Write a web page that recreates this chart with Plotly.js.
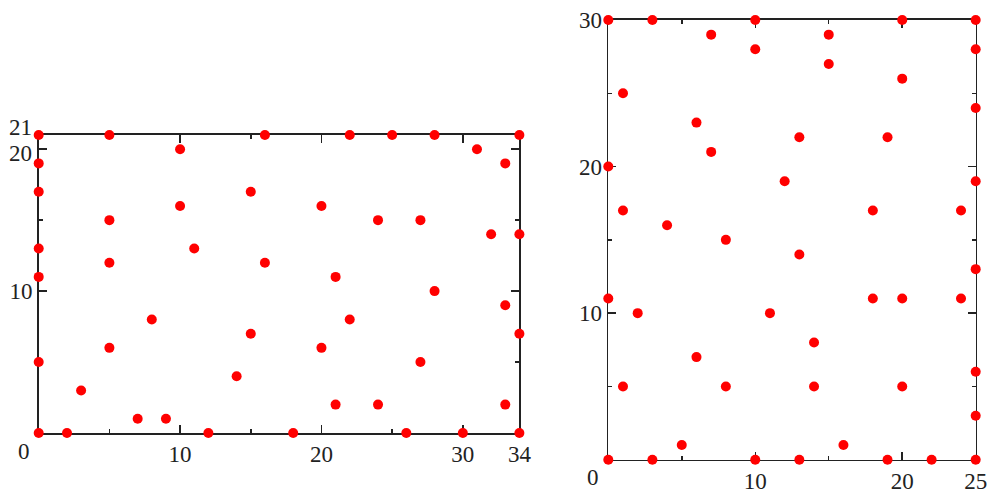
<!DOCTYPE html>
<html>
<head>
<meta charset="utf-8">
<script src="https://cdn.plot.ly/plotly-3.0.1.min.js"></script>
<style>html,body{margin:0;padding:0;background:#fff;}#chart{width:997px;height:497px;}</style>
</head>
<body>
<div id="chart"></div>
<script>
// Left panel points (x, y)
const leftX = [0,5,16,22,25,28,34, 10,31, 0,33, 0,15, 10,20, 5,24,27, 32,34, 0,11, 5,16, 0,21, 28, 33, 8,22, 15,34, 5,20, 0,27, 14, 3, 21,24,33, 7,9, 0,2,12,18,26,30,34];
const leftY = [21,21,21,21,21,21,21, 20,20, 19,19, 17,17, 16,16, 15,15,15, 14,14, 13,13, 12,12, 11,11, 10, 9, 8,8, 7,7, 6,6, 5,5, 4, 3, 2,2,2, 1,1, 0,0,0,0,0,0,0];
// Right panel points (x, y)
const rightX = [0,3,10,20,25, 7,15, 10,25, 15, 20, 1, 25, 6, 13,19, 7, 0, 12,25, 1,18,24, 4, 8, 13, 25, 0,18,20,24, 2,11, 14, 6, 25, 1,8,14,20, 25, 5,16, 0,3,10,13,19,22,25];
const rightY = [30,30,30,30,30, 29,29, 28,28, 27, 26, 25, 24, 23, 22,22, 21, 20, 19,19, 17,17,17, 16, 15, 14, 13, 11,11,11,11, 10,10, 8, 7, 6, 5,5,5,5, 3, 1,1, 0,0,0,0,0,0,0];
// Tick labels
const leftXTicks = [10,20,30,34];
const leftYTicks = [10,20];
const leftYTickText = ['10',''];
const rightXTicks = [10,20,25];
const rightYTicks = [10,20,30];
const originLabel = '0';
const leftYUpperLabels = ['20','21'];
const leftYUpperValues = [20,21];

const marker = {color:'#ff0000', size:10};
const traces = [
  {x:leftX, y:leftY, type:'scatter', mode:'markers', marker, xaxis:'x', yaxis:'y', cliponaxis:false, hoverinfo:'none'},
  {x:rightX, y:rightY, type:'scatter', mode:'markers', marker, xaxis:'x2', yaxis:'y2', cliponaxis:false, hoverinfo:'none'}
];

const font = {family:'Liberation Serif, Times New Roman, serif', size:23, color:'#222'};
function ax(range, domain, anchor, tickvals, minorvals, ticktext){
  return {
    range, domain, anchor, autorange:false, fixedrange:true, layer:'below traces',
    tickmode:'array', tickvals, ticktext: ticktext || tickvals.map(String),
    ticks:'inside', ticklen:8, tickwidth:1.5, tickcolor:'#222',
    showline:true, linecolor:'#222', linewidth:1.6, mirror:'ticks',
    showgrid:false, zeroline:false, tickfont:font,
    minor:{tickmode:'array', tickvals:minorvals, ticks:'inside', ticklen:4, tickwidth:1.5, tickcolor:'#222', showgrid:false}
  };
}

const annotations = [
  {text:originLabel, xref:'x', yref:'y', x:0, y:0, showarrow:false, font, xshift:-15, yshift:-18},
  {text:originLabel, xref:'x2', yref:'y2', x:0, y:0, showarrow:false, font, xshift:-15, yshift:-18}
];
const upperShift = [-4, 8];
leftYUpperLabels.forEach((t,i)=>annotations.push(
  {text:t, xref:'x', yref:'y', x:0, y:leftYUpperValues[i], showarrow:false, font, xanchor:'right', xshift:-5, yshift:upperShift[i]}
));

const layout = {
  width:997, height:497,
  margin:{l:0,r:0,t:0,b:0},
  paper_bgcolor:'#fff', plot_bgcolor:'#fff',
  showlegend:false,
  xaxis: ax([0,34],[0.03882,0.52096],'y',leftXTicks,[5,15,25]),
  yaxis: ax([0,21],[0.12877,0.72837],'x',leftYTicks,[5,15],leftYTickText),
  xaxis2: ax([0,25],[0.61013,0.97864],'y2',rightXTicks,[5,15]),
  yaxis2: ax([0,30],[0.07505,0.95976],'x2',rightYTicks,[5,15,25]),
  annotations
};
Plotly.newPlot('chart', traces, layout, {staticPlot:true, displayModeBar:false});
</script>
</body>
</html>
